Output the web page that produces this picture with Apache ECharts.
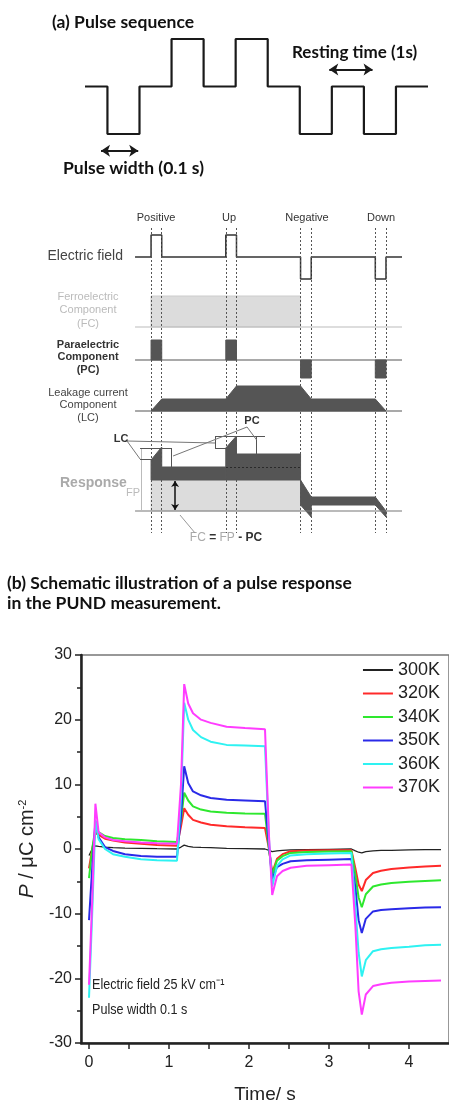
<!DOCTYPE html>
<html lang="en">
<head>
<meta charset="UTF-8">
<title>PUND pulse response</title>
<script src="https://cdn.jsdelivr.net/npm/echarts@6/dist/echarts.min.js"></script>
<style>
  html, body { margin: 0; padding: 0; background: #fff; }
  #main { width: 449px; height: 1106px; }
</style>
</head>
<body>
<div id="main"></div>
<script>
// ---- main chart data: P (uC/cm2) vs time (s) ----
var time = [0, 0.04, 0.08, 0.12, 0.2, 0.3, 0.45, 0.65, 0.85, 1.1, 1.15, 1.19, 1.24, 1.3, 1.4, 1.52, 1.72, 1.95, 2.2,
  2.25, 2.29, 2.35, 2.42, 2.52, 2.72, 3.0, 3.28, 3.33, 3.37, 3.41, 3.46, 3.55, 3.65, 3.78, 4.0, 4.2, 4.4];
var p300 = [-1, 0, 0.5, 0.4, 0.3, 0.2, 0.15, 0.1, 0.05, 0, 0.3, 0.6, 0.4, 0.3, 0.25, 0.2, 0.1, 0.05, 0,
  -0.2, -0.4, -0.3, -0.2, -0.15, -0.1, -0.05, 0, -0.3, -0.5, -0.6, -0.4, -0.3, -0.2, -0.2, -0.15, -0.1, -0.1];
var p320 = [-3, 0, 2.5, 2.2, 1.6, 1.3, 1.0, 0.8, 0.6, 0.5, 3.5, 6.3, 5.3, 4.5, 4.1, 3.75, 3.5, 3.35, 3.25,
  0, -3.7, -1.5, -0.8, -0.35, -0.25, -0.2, -0.2, -3, -5.5, -6.5, -4.8, -3.7, -3.35, -3.1, -2.85, -2.7, -2.6];
var p340 = [-4.5, 0, 3.2, 2.6, 2.0, 1.7, 1.5, 1.4, 1.2, 1.1, 4.5, 8.7, 7.5, 6.6, 6.1, 5.8, 5.6, 5.5, 5.45,
  0, -4.0, -1.8, -1.1, -0.6, -0.45, -0.4, -0.35, -4, -7.5, -9.0, -7.0, -5.8, -5.5, -5.25, -5.05, -4.95, -4.85];
var p350 = [-11, -3, 4.3, 1.8, 0.3, -0.3, -0.8, -1.1, -1.2, -1.2, 5, 12.8, 10.2, 8.9, 8.3, 7.9, 7.6, 7.5, 7.4,
  0.5, -4.7, -2.8, -2.3, -1.9, -1.75, -1.65, -1.55, -6, -11, -13.0, -10.8, -9.65, -9.45, -9.3, -9.15, -9.05, -9.0];
var p360 = [-23, -10, 4.5, 1.5, 0, -0.8, -1.2, -1.6, -1.75, -1.8, 8, 22.6, 20.0, 18.4, 17.3, 16.6, 16.1, 16.0, 15.9,
  1.5, -5.8, -2.6, -1.6, -1.0, -0.8, -0.7, -0.6, -9, -16, -19.7, -17.2, -15.8, -15.5, -15.3, -15.1, -14.9, -14.8];
var p370 = [-21, -8, 7.0, 2.6, 1.8, 1.4, 1.2, 1.0, 0.9, 0.8, 10, 25.5, 22.5, 21.0, 20.0, 19.5, 18.9, 18.7, 18.5,
  2, -7.1, -4.2, -3.4, -2.9, -2.6, -2.5, -2.4, -12, -22, -25.6, -22.5, -21.2, -20.9, -20.7, -20.5, -20.4, -20.35];
var tempNames = ['300K', '320K', '340K', '350K', '360K', '370K'];
var tempColors = ['#222222', '#ff2a2a', '#2ee82e', '#2a2ae8', '#2ef2f2', '#ff3cff'];
var xLabels = [0, 1, 2, 3, 4];
var xMinor = [0.5, 1.5, 2.5, 3.5];

// ---- (a) pulse sequence, time in units of pulse width ----
var seqT = [0, 0.7, 0.7, 1.7, 1.7, 2.7, 2.7, 3.7, 3.7, 4.7, 4.7, 5.7, 5.7, 6.7, 6.7, 7.7, 7.7, 8.7, 8.7, 9.7, 9.7, 10.7];
var seqV = [0, 0, -1, -1, 0, 0, 1, 1, 0, 0, 1, 1, 0, 0, -1, -1, 0, 0, -1, -1, 0, 0];

// ---- PUND schematic shapes [t, level] relative to each row's baseline ----
var pundEdges = [1.5, 2.5, 8.5, 9.5, 15.5, 16.5, 22.5, 23.5];
var fieldShape = [[0, 0], [1.5, 0], [1.5, 22], [2.5, 22], [2.5, 0], [8.5, 0], [8.5, 22], [9.5, 22], [9.5, 0],
  [15.5, 0], [15.5, -22], [16.5, -22], [16.5, 0], [22.5, 0], [22.5, -22], [23.5, -22], [23.5, 0], [25, 0]];
var fcShape = [[1.5, 0], [1.5, 31], [15.5, 31], [15.5, 0]];
var pcShapes = [
  [[1.5, 0], [1.5, 20], [2.5, 20], [2.5, 0]],
  [[8.5, 0], [8.5, 20], [9.5, 20], [9.5, 0]],
  [[15.5, 0], [15.5, -18], [16.5, -18], [16.5, 0]],
  [[22.5, 0], [22.5, -18], [23.5, -18], [23.5, 0]]
];
var lcShape = [[1.5, 0], [2.5, 12], [8.5, 12], [9.5, 25], [15.5, 25], [16.5, 12], [22.5, 12], [23.5, 0]];
var respLight = [[1.5, 0], [1.5, 31], [15.5, 31], [15.5, 0]];
var respP = [[1.5, 31], [1.5, 51], [2.5, 64], [2.5, 44], [8.5, 44], [8.5, 31]];
var respU = [[8.5, 31], [8.5, 63], [9.5, 75], [9.5, 57], [15.5, 57], [15.5, 31]];
var respN = [[15.5, 31], [16.5, 14], [22.5, 14], [23.5, 0], [23.5, -6], [22.5, 6], [16.5, 6], [16.5, -6], [15.5, 6]];
// annotation segments of the response row [t1, l1, t2, l2, colour]
var respNotes = [
  [0.56, 63, 0.56, 1, '#bbbbbb'],
  [0.47, 63, 3.46, 63, '#555555'], [0.47, 52, 1.87, 52, '#555555'], [3.43, 63, 3.43, 44, '#555555'],
  [7.49, 75, 12.17, 75, '#555555'], [7.49, 63, 9.36, 63, '#555555'], [7.49, 75, 7.49, 63, '#555555'],
  [11.39, 75, 11.39, 57, '#555555'],
  [-0.75, 70, 0.47, 52, '#777777'], [-0.75, 70, 7.49, 68, '#777777'],
  [10.49, 84, 3.56, 55, '#777777'], [10.49, 84, 11.39, 71, '#777777'],
  [4.21, -4, 5.62, -22, '#999999']
];
var rows = { field: 283, fc: 213, pc: 180, lc: 129, resp: 29 };

var PUND_X = 1, PUND_Y = 1, SEQ_X = 2, SEQ_Y = 2;

function shift(pts, base) {
  return pts.map(function (p) { return [p[0], base + p[1]]; });
}
function poly(pts, base, fill, stroke) {
  return {
    type: 'custom', xAxisIndex: PUND_X, yAxisIndex: PUND_Y, silent: true, data: [0], z: 2,
    renderItem: function (params, api) {
      return {
        type: 'polygon',
        shape: { points: shift(pts, base).map(function (p) { return api.coord(p); }) },
        style: { fill: fill, stroke: stroke || fill, lineWidth: 1 }
      };
    }
  };
}
function pundLine(pts, color, width) {
  return {
    type: 'line', xAxisIndex: PUND_X, yAxisIndex: PUND_Y, data: pts, symbol: 'none', silent: true, z: 3,
    lineStyle: { color: color, width: width }
  };
}

var arial = "'Liberation Sans', Arial, sans-serif";
var calib = "Lato, 'Open Sans', sans-serif";

var series = [];
var temps = [p300, p320, p340, p350, p360, p370];
temps.forEach(function (arr, k) {
  series.push({
    name: tempNames[k], type: 'line', xAxisIndex: 0, yAxisIndex: 0, symbol: 'none',
    data: time.map(function (t, i) { return [t, arr[i]]; }),
    lineStyle: { color: tempColors[k], width: k === 0 ? 1.3 : 2 },
    itemStyle: { color: tempColors[k] }
  });
});

// half-second ticks under the time axis
series.push({
  type: 'custom', xAxisIndex: 0, yAxisIndex: 0, silent: true, z: 10, clip: false,
  data: xMinor.map(function (t) { return [t, -30]; }),
  encode: { x: 0, y: 1 },
  renderItem: function (params, api) {
    var p = api.coord([api.value(0), api.value(1)]);
    return {
      type: 'rect',
      shape: { x: p[0] - 0.75, y: p[1] + 1, width: 1.5, height: 5 },
      style: { fill: '#222' }
    };
  }
});

// pulse sequence
series.push({
  type: 'line', xAxisIndex: SEQ_X, yAxisIndex: SEQ_Y, symbol: 'none', silent: true,
  data: seqT.map(function (t, i) { return [t, seqV[i]]; }),
  lineStyle: { color: '#1a1a1a', width: 2.2 },
  markLine: {
    silent: true, symbol: ['arrow', 'arrow'], symbolSize: [9, 9], animation: false,
    label: { show: false },
    lineStyle: { color: '#1a1a1a', width: 2, type: 'solid' },
    data: [
      [{ coord: [0.5, -1.35] }, { coord: [1.66, -1.35] }],
      [{ coord: [7.62, 0.36] }, { coord: [8.97, 0.36] }]
    ]
  }
});

// PUND schematic
series.push(poly(fcShape, rows.fc, '#dcdcdc', '#cccccc'));
series.push(pundLine([[0, rows.fc], [25, rows.fc]], '#bbbbbb', 1));
pcShapes.forEach(function (s) { series.push(poly(s, rows.pc, '#555555')); });
series.push(pundLine([[0, rows.pc], [25, rows.pc]], '#555555', 1.2));
series.push(poly(lcShape, rows.lc, '#555555'));
series.push(pundLine([[0, rows.lc], [25, rows.lc]], '#555555', 1.2));
series.push(poly(respLight, rows.resp, '#dcdcdc'));
series.push(poly(respP, rows.resp, '#555555'));
series.push(poly(respU, rows.resp, '#555555'));
series.push(poly(respN, rows.resp, '#555555'));
series.push(pundLine([[0, rows.resp], [25, rows.resp]], '#777777', 1.2));
series.push({
  type: 'line', xAxisIndex: PUND_X, yAxisIndex: PUND_Y, symbol: 'none', silent: true, z: 4,
  data: shift(fieldShape, rows.field),
  lineStyle: { color: '#333333', width: 1.5 },
  markLine: {
    silent: true, symbol: 'none', animation: false, label: { show: false },
    data: pundEdges.map(function (t) {
      return [{ coord: [t, 312], lineStyle: { color: '#555', width: 1, type: [2, 2] } }, { coord: [t, 7] }];
    }).concat([[{ coord: [8.52, rows.resp + 44], lineStyle: { color: '#2a2a2a', width: 1, type: [2, 2] } },
      { coord: [15.5, rows.resp + 44] }]]).concat(respNotes.map(function (n) {
      return [{ coord: [n[0], rows.resp + n[1]], lineStyle: { color: n[4], width: 1, type: 'solid' } },
        { coord: [n[2], rows.resp + n[3]] }];
    }))
  }
});
series.push({
  type: 'line', xAxisIndex: PUND_X, yAxisIndex: PUND_Y, symbol: 'none', silent: true, data: [],
  markLine: {
    silent: true, symbol: ['arrow', 'arrow'], symbolSize: [6, 6], animation: false, label: { show: false },
    lineStyle: { color: '#111', width: 1.5, type: 'solid' },
    data: [[{ coord: [3.75, rows.resp + 30] }, { coord: [3.75, rows.resp + 1] }]]
  }
});

var hidden = { show: false };
var option = {
  animation: false,
  backgroundColor: '#ffffff',
  grid: [
    { left: 81, right: 0, top: 655, bottom: 63, show: true, borderColor: '#777', borderWidth: 1.5, backgroundColor: 'transparent' },
    { left: 103, width: 299, top: 220, height: 320 },
    { left: 85, width: 343, top: 39, height: 118.75 }
  ],
  xAxis: [
    {
      type: 'value', gridIndex: 0, min: -0.1, max: 4.5, position: 'bottom',
      axisLine: { show: true, onZero: false, lineStyle: { color: '#222', width: 2.5 } },
      axisTick: { show: true, customValues: xLabels, length: 6, lineStyle: { color: '#222', width: 1.5 } },
      axisLabel: { customValues: xLabels, fontSize: 16, color: '#222', margin: 12, fontFamily: arial },
      splitLine: hidden,
      name: 'Time/ s', nameLocation: 'middle', nameGap: 42,
      nameTextStyle: { fontSize: 19, color: '#222', fontFamily: arial }
    },
    { type: 'value', gridIndex: 1, min: -3, max: 25, show: false },
    { type: 'value', gridIndex: 2, min: 0, max: 10.7, show: false }
  ],
  yAxis: [
    {
      type: 'value', gridIndex: 0, min: -30, max: 30, interval: 10,
      axisLine: { show: true, onZero: false, lineStyle: { color: '#222', width: 2.5 } },
      axisTick: { show: true, length: 6, lineStyle: { color: '#222', width: 1.5 } },
      minorTick: { show: true, splitNumber: 2, length: 4, lineStyle: { color: '#222', width: 1.5 } },
      axisLabel: { fontSize: 16, color: '#222', margin: 9, fontFamily: arial },
      splitLine: hidden,
      name: '{i|P} / \u03bcC cm{s|-2}', nameLocation: 'middle', nameGap: 42,
      nameTextStyle: {
        fontSize: 20, color: '#222', fontFamily: arial,
        rich: { i: { fontSize: 21, fontStyle: 'italic', fontFamily: arial, color: '#222' },
          s: { fontSize: 11, fontFamily: arial, color: '#222', padding: [0, 0, 10, 0] } }
      }
    },
    { type: 'value', gridIndex: 1, min: 0, max: 320, show: false },
    { type: 'value', gridIndex: 2, min: -1.5, max: 1, show: false }
  ],
  legend: {
    data: tempNames, orient: 'vertical', right: 4, top: 655, align: 'left',
    icon: 'rect', itemWidth: 30, itemHeight: 2, itemGap: 3.5,
    textStyle: { fontSize: 18, lineHeight: 20, color: '#222', fontFamily: arial }
  },
  graphic: [
    { type: 'text', x: 52, y: 22, style: { text: '(a) Pulse sequence', font: 'bold 17.5px ' + calib, fill: '#111', verticalAlign: 'middle' } },
    { type: 'text', x: 292, y: 53, style: { text: 'Resting time (1s)', font: 'bold 17px ' + calib, fill: '#111', verticalAlign: 'middle' } },
    { type: 'text', x: 63, y: 168, style: { text: 'Pulse width (0.1 s)', font: 'bold 17.5px ' + calib, fill: '#111', verticalAlign: 'middle' } },
    { type: 'text', x: 156, y: 218, style: { text: 'Positive', font: '11px ' + arial, fill: '#333', align: 'center', verticalAlign: 'middle' } },
    { type: 'text', x: 229, y: 218, style: { text: 'Up', font: '11px ' + arial, fill: '#333', align: 'center', verticalAlign: 'middle' } },
    { type: 'text', x: 307, y: 218, style: { text: 'Negative', font: '11px ' + arial, fill: '#333', align: 'center', verticalAlign: 'middle' } },
    { type: 'text', x: 381, y: 218, style: { text: 'Down', font: '11px ' + arial, fill: '#333', align: 'center', verticalAlign: 'middle' } },
    { type: 'text', x: 123, y: 256, style: { text: 'Electric field', font: '14px ' + arial, fill: '#444', align: 'right', verticalAlign: 'middle' } },
    { type: 'text', x: 88, y: 310, style: { text: 'Ferroelectric\nComponent\n(FC)', font: '11px ' + arial, lineHeight: 13.5, fill: '#bbb', align: 'center', verticalAlign: 'middle' } },
    { type: 'text', x: 88, y: 357, style: { text: 'Paraelectric\nComponent\n(PC)', font: 'bold 11px ' + arial, lineHeight: 12.5, fill: '#333', align: 'center', verticalAlign: 'middle' } },
    { type: 'text', x: 88, y: 405, style: { text: 'Leakage current\nComponent\n(LC)', font: '11px ' + arial, lineHeight: 12.5, fill: '#444', align: 'center', verticalAlign: 'middle' } },
    { type: 'text', x: 60, y: 483, style: { text: 'Response', font: 'bold 14px ' + arial, fill: '#aaa', verticalAlign: 'middle' } },
    { type: 'text', x: 126, y: 493, style: { text: 'FP', font: '11px ' + arial, fill: '#bbb', verticalAlign: 'middle' } },
    { type: 'text', x: 121, y: 439, style: { text: 'LC', font: 'bold 11px ' + arial, fill: '#333', align: 'center', verticalAlign: 'middle' } },
    { type: 'text', x: 252, y: 421, style: { text: 'PC', font: 'bold 11px ' + arial, fill: '#333', align: 'center', verticalAlign: 'middle' } },
    { type: 'text', x: 226, y: 538, style: {
      text: '{g|FC} {k|=} {g|FP} {k|-} {k|PC}', align: 'center', verticalAlign: 'middle',
      rich: { g: { font: '12px ' + arial, fill: '#aaa' }, k: { font: 'bold 12px ' + arial, fill: '#333' } } } },
    { type: 'text', x: 7, y: 583, style: { text: '(b) Schematic illustration of a pulse response', font: 'bold 17.5px ' + calib, fill: '#111', verticalAlign: 'middle' } },
    { type: 'text', x: 7, y: 603, style: { text: 'in the PUND measurement.', font: 'bold 17.5px ' + calib, fill: '#111', verticalAlign: 'middle' } },
    { type: 'text', x: 92, y: 985, scaleX: 0.84, style: { text: 'Electric field 25 kV cm\u207b\u00b9', font: '15px ' + arial, fill: '#222', verticalAlign: 'middle' } },
    { type: 'text', x: 92, y: 1010, scaleX: 0.84, style: { text: 'Pulse width 0.1 s', font: '15px ' + arial, fill: '#222', verticalAlign: 'middle' } }
  ],
  series: series
};

var chart = echarts.init(document.getElementById('main'), null, { renderer: 'canvas' });
chart.setOption(option);
</script>
</body>
</html>
